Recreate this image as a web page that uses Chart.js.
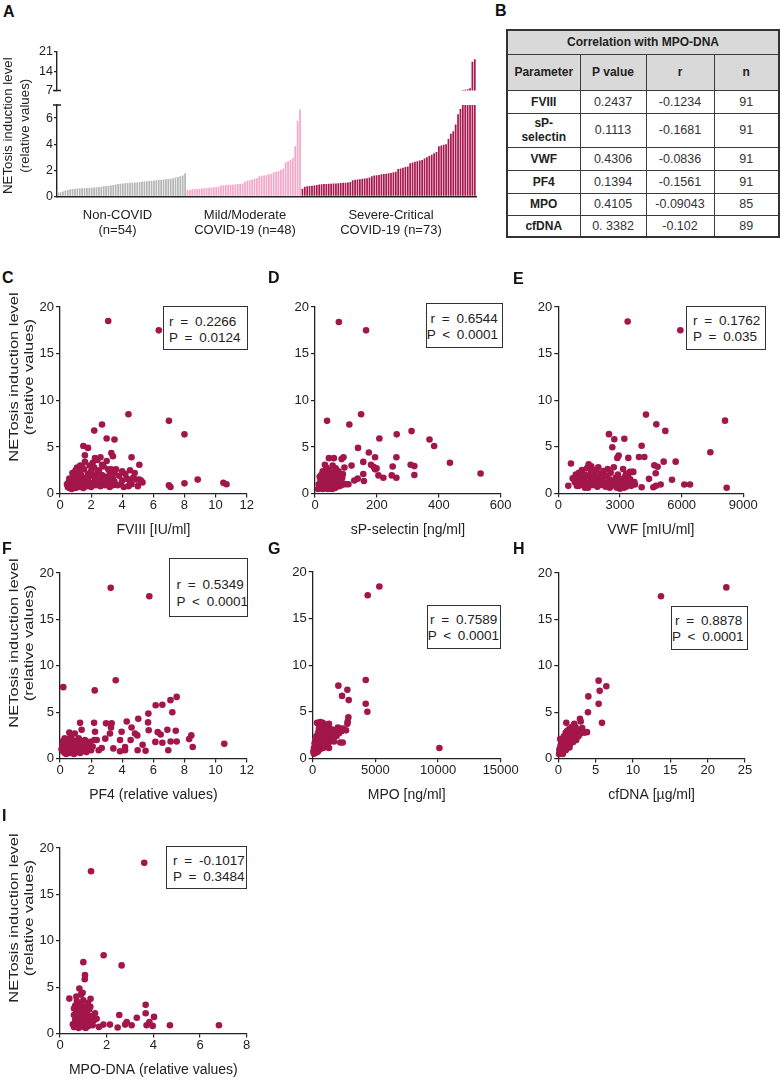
<!DOCTYPE html>
<html><head><meta charset="utf-8">
<script src="https://cdn.jsdelivr.net/npm/chart.js@4.4.0/dist/chart.umd.min.js"></script>
<style>
body{margin:0;background:#fff;width:781px;height:1079px;position:relative;overflow:hidden;font-family:"Liberation Sans",Arial,sans-serif;color:#222}
canvas{position:absolute}
.letter{position:absolute;font-weight:bold;font-size:16px;line-height:16px;color:#111}
.ytitle{position:absolute;white-space:nowrap;text-align:center;color:#222}
.glabel{position:absolute;width:170px;text-align:center;font-size:13px;line-height:15px;color:#222}
.box{position:absolute;border:1.3px solid #333;background:#fff;font-size:13.5px;line-height:16.8px;word-spacing:3px;box-sizing:border-box;white-space:nowrap;color:#222}
.tbl{position:absolute;border-collapse:collapse;table-layout:fixed;width:272px;font-size:12.5px;color:#333;border:2px solid #333}
.tbl td{border:1.5px solid #3c3c3c;text-align:center;padding:0;line-height:14px}
.tbl .hd td{background:#d9d9d9;color:#222;font-weight:bold;font-size:12px}
.tbl .p{font-weight:bold;color:#222;font-size:12px}
</style></head><body>
<script>
// ---------------- DATA ----------------
// Panel A: NETosis induction level per patient (sorted)
const nonCovid = [0.28,0.32,0.38,0.45,0.5,0.55,0.58,0.6,0.61,0.62,0.63,0.64,0.65,0.66,0.67,0.68,0.7,0.72,0.75,0.78,0.8,0.82,0.85,0.88,0.92,0.95,0.98,1.0,1.02,1.04,1.05,1.06,1.07,1.08,1.1,1.12,1.14,1.16,1.18,1.2,1.22,1.24,1.26,1.28,1.3,1.32,1.34,1.36,1.4,1.45,1.5,1.55,1.6,1.78];
const mildModerate = [0.5,0.52,0.55,0.57,0.58,0.6,0.62,0.63,0.65,0.66,0.68,0.7,0.72,0.75,0.85,0.86,0.88,0.9,0.9,0.92,0.93,0.95,0.97,1.0,1.15,1.2,1.25,1.3,1.35,1.4,1.55,1.58,1.6,1.65,1.7,1.75,1.85,1.9,1.95,2.05,2.15,2.6,2.7,2.8,2.95,3.85,5.8,6.65];
const severeCritical = [0.6,0.75,0.78,0.8,0.82,0.85,0.88,0.92,0.94,0.95,0.96,0.97,0.98,1.0,1.0,1.02,1.04,1.05,1.06,1.08,1.1,1.25,1.28,1.3,1.32,1.35,1.38,1.4,1.45,1.55,1.6,1.62,1.65,1.7,1.72,1.75,1.78,1.8,1.85,1.9,2.1,2.15,2.2,2.25,2.3,2.55,2.6,2.65,2.7,2.75,2.8,2.9,3.0,3.1,3.2,3.3,3.4,3.85,3.9,3.95,4.0,4.4,4.8,5.0,5.5,6.3,6.7,7.2,7.3,7.5,7.8,17.5,18.4];
const groupNames = [['Non-COVID','(n=54)'],['Mild/Moderate','COVID-19 (n=48)'],['Severe-Critical','COVID-19 (n=73)']];
const lowerTicksA = [0,2,4,6];
const upperTicksA = [7,14,21];

// Panels C-I: [x, NETosis level]
const fviiiPts = [[3.1,18.5],[6.35,17.5],[4.4,8.5],[2.7,7.4],[7.0,7.8],[8.0,6.35],[2.2,6.75],[3.0,5.9],[3.5,5.8],[1.5,5.1],[1.8,4.9],[1.6,4.1],[3.3,4.35],[4.6,3.9],[5.1,3.1],[2.25,3.8],[2.6,3.9],[3.4,4.0],[7.0,0.9],[7.1,0.7],[8.0,1.1],[8.85,1.5],[10.5,1.15],[10.7,1.0],
[0.45,1.0],[0.5,0.7],[0.55,1.2],[0.6,0.6],[0.65,0.9],[0.7,1.5],[0.75,0.5],[0.8,2.2],[0.85,1.1],[0.9,0.8],[0.95,1.8],[1.0,2.5],[1.0,0.6],[1.05,1.3],[1.1,2.8],[1.1,1.0],[1.15,1.9],[1.2,0.7],[1.2,2.3],[1.25,1.5],[1.3,3.0],[1.3,0.9],[1.35,2.0],[1.4,1.2],[1.4,2.9],[1.5,0.6],[1.5,1.7],[1.55,2.6],[1.6,1.0],[1.6,3.4],[1.7,1.4],[1.7,0.8],[1.8,2.1],[1.8,1.6],[1.9,3.0],[1.9,1.1],[2.0,2.4],[2.0,0.7],[2.1,1.9],[2.1,3.3],[2.2,1.3],[2.2,2.8],[2.3,0.9],[2.3,1.7],[2.4,2.2],[2.4,3.6],[2.5,1.0],[2.5,2.5],[2.6,0.8],[2.6,1.5],[2.7,3.1],[2.7,2.0],[2.8,1.2],[2.8,2.9],[2.9,0.9],[2.9,1.8],[3.0,3.5],[3.0,1.1],[3.1,2.6],[3.1,1.6],[3.2,0.7],[3.2,2.2],[3.3,1.3],[3.3,2.6],[3.4,1.6],[3.4,0.9],[3.5,2.2],[3.5,1.3],[3.6,2.6],[3.7,0.9],[3.8,1.9],[3.9,1.0],[4.0,2.4],[4.0,1.4],[4.1,0.7],[4.2,2.1],[4.3,1.6],[4.4,0.8],[4.5,1.2],[4.5,2.5],[4.6,1.0],[4.7,1.7],[4.8,2.2],[4.9,1.5],[5.0,0.8],[5.1,1.5],[5.2,1.4],[5.3,1.2],[0.6,1.6],[0.8,1.2],[1.0,1.6]];
const sPselPts = [[77,18.4],[165,17.5],[149,8.5],[39,7.8],[111,7.4],[312,6.7],[264,6.35],[208,5.9],[370,5.8],[385,5.1],[139,4.9],[174,4.4],[436,3.3],[535,2.15],[263,3.9],[194,3.9],[156,3.4],[309,3.1],[321,2.95],[321,2.0],[251,2.9],[263,1.7],[248,1.95],[221,1.7],[205,1.95],[190,2.85],[181,3.1],[194,2.6],[199,2.7],[156,2.1],[158,1.35],[138,1.6],[127,1.4],[108,1.0],[94,1.05],[118,3.0],[92,3.9],[86,3.7],[61,3.8],[45,3.8],[32,3.1],
[10,0.5],[12,1.0],[15,0.7],[18,1.5],[20,2.0],[22,0.9],[24,1.2],[25,2.4],[27,0.6],[28,1.8],[30,1.1],[32,2.2],[33,0.8],[35,1.5],[36,2.8],[38,1.0],[40,1.9],[41,0.5],[43,1.3],[45,2.5],[46,0.9],[48,1.7],[50,1.1],[52,2.1],[54,0.7],[55,1.4],[57,3.0],[58,1.0],[60,1.8],[62,0.6],[63,2.3],[65,1.2],[67,2.7],[68,0.9],[70,1.6],[72,2.0],[74,1.1],[76,2.4],[78,0.8],[80,1.5],[82,1.9],[85,1.2],[88,1.7],[90,2.1],[92,1.0],[95,2.8],[100,1.0],[15,1.8],[20,1.1],[25,0.5],[30,1.6],[35,0.6],[40,1.2],[45,0.7],[50,2.0],[55,0.5],[60,1.3],[65,0.6],[70,0.9],[25,1.6],[18,1.2],[40,2.6],[52,1.6],[75,1.4],[85,0.9]];
const vwfPts = [[3374,18.45],[5937,17.5],[4266,8.45],[4769,7.4],[8110,7.8],[5207,6.7],[2465,6.35],[2725,5.8],[3212,5.85],[2628,4.95],[4055,5.1],[7396,4.4],[5710,3.4],[5126,3.4],[4185,3.9],[3406,3.8],[3925,3.9],[2871,3.8],[2936,4.05],[4672,3.0],[4834,2.85],[4737,2.15],[4412,1.55],[5531,1.45],[6131,0.95],[6407,0.95],[4980,0.95],[4753,0.8],[4623,0.65],[8191,0.6],[4055,0.65],[3731,0.95],[3650,2.3],[3487,2.3],[616,3.2],[1476,3.1],[1606,2.9],[1946,2.8],[487,0.8],
[700,1.6],[800,1.2],[850,2.0],[900,0.8],[950,1.4],[1000,2.2],[1050,1.0],[1100,1.7],[1150,2.5],[1200,0.9],[1250,1.5],[1300,2.0],[1350,1.1],[1400,2.7],[1450,0.6],[1500,1.8],[1550,1.3],[1600,2.3],[1650,0.9],[1700,1.6],[1750,2.0],[1800,1.1],[1850,2.5],[1900,0.7],[1950,1.7],[2000,1.3],[2050,2.1],[2100,0.9],[2150,1.6],[2200,2.4],[2250,1.2],[2300,0.7],[2350,1.9],[2400,2.6],[2450,1.0],[2500,1.5],[2550,2.2],[2600,0.8],[2650,1.3],[2700,2.8],[2750,1.0],[2800,1.7],[2850,0.6],[2900,2.0],[2950,1.2],[3000,0.5],[3050,1.5],[3100,0.8],[3150,2.6],[3200,1.1],[3250,1.8],[3300,0.7],[3350,1.3],[3400,2.0],[3450,1.0],[3500,1.5],[3550,0.8],[3600,2.3],[3700,1.2],[1000,0.8],[1300,0.6],[1700,0.9],[2100,1.9],[2500,0.6],[2900,1.5],[3200,0.6],[3300,2.1]];
const pf4Pts = [[3.26,18.4],[5.74,17.5],[3.58,8.45],[0.21,7.7],[2.23,7.35],[7.5,6.65],[7.1,6.3],[6.58,5.8],[6.15,5.75],[7.22,5.0],[5.68,4.85],[5.03,4.3],[4.29,4.0],[5.66,3.9],[3.32,3.8],[1.29,3.85],[2.19,3.85],[2.96,3.8],[4.6,3.35],[3.28,3.35],[1.39,3.1],[6.9,3.1],[7.44,3.0],[5.7,3.05],[6.28,2.85],[6.47,2.6],[8.44,2.5],[8.3,2.1],[8.53,1.25],[10.56,1.6],[7.5,1.85],[7.11,1.85],[6.58,1.7],[6.13,1.8],[6.96,0.9],[5.5,0.85],[5.31,1.5],[4.99,0.9],[4.82,2.7],[4.97,2.5],[4.54,2.0],[4.18,1.25],[4.18,0.9],[3.86,0.8],[3.86,2.0],[3.96,2.9],[3.43,1.1],[3.21,2.7],[2.91,2.15],[2.68,1.15],[2.49,0.9],[2.36,2.0],[2.25,2.9],[1.89,1.45],
[0.1,1.0],[0.15,1.3],[0.2,0.8],[0.25,1.6],[0.3,2.2],[0.3,0.6],[0.35,1.1],[0.4,1.8],[0.45,0.7],[0.5,1.4],[0.5,2.1],[0.55,0.9],[0.6,1.2],[0.6,2.8],[0.65,0.6],[0.7,1.6],[0.75,1.0],[0.8,2.0],[0.85,0.8],[0.9,1.3],[0.95,2.7],[1.0,1.0],[1.05,1.7],[1.1,0.7],[1.15,1.2],[1.2,2.2],[1.25,0.9],[1.3,1.5],[1.35,1.9],[1.4,0.8],[1.5,1.3],[1.55,1.1],[1.6,2.0],[1.7,0.7],[1.75,1.5],[1.8,1.0],[1.9,1.8],[2.0,0.9],[2.1,1.3],[2.2,2.0],[0.2,1.9],[0.4,0.5],[0.7,2.4],[1.0,1.9],[1.3,0.6],[0.9,0.5]];
const mpoPts = [[5320,18.45],[4389,17.5],[4229,8.4],[2048,7.8],[2766,7.35],[2341,6.7],[2873,6.25],[4229,5.85],[4362,5.0],[10108,1.1],[2846,4.4],[2793,3.95],[2766,3.7],[2394,1.7],[2660,3.0],[2075,3.25],
[100,0.5],[150,0.8],[200,1.2],[250,0.6],[300,1.6],[300,2.4],[350,1.0],[350,3.8],[400,1.9],[400,0.7],[450,2.8],[450,1.3],[500,3.2],[500,0.9],[550,2.1],[550,1.5],[600,2.7],[600,1.0],[650,3.5],[650,1.8],[700,2.3],[700,1.2],[750,3.0],[750,1.6],[800,3.8],[800,2.0],[850,1.1],[850,2.6],[900,3.3],[900,1.7],[950,2.2],[1000,3.0],[1000,1.3],[1050,2.5],[1100,3.6],[1100,1.9],[1150,2.8],[1200,1.5],[1200,3.3],[1300,2.2],[1300,3.7],[1400,2.6],[1400,1.8],[1500,3.1],[1500,2.0],[1600,2.6],[1700,1.8],[1800,3.0],[1900,2.4],[2000,3.3],[2100,2.7],[2200,1.7],[2300,2.9],[2400,3.2],[200,2.0],[250,1.4],[150,1.6],[100,1.1],[50,0.7],[600,3.9],[1000,2.3],[1300,1.1]];
const cfdnaPts = [[22.5,18.45],[13.75,17.5],[5.4,8.4],[6.43,7.8],[5.54,7.3],[4.02,6.7],[5.4,5.9],[3.97,5.0],[5.85,3.85],[3.84,2.85],[2.9,4.3],[3.0,4.0],[1.07,3.85],[2.14,3.75],
[0.1,0.5],[0.2,0.8],[0.25,2.1],[0.3,0.6],[0.35,1.2],[0.4,0.9],[0.45,1.6],[0.5,1.0],[0.55,0.7],[0.6,1.4],[0.65,1.9],[0.7,1.1],[0.75,2.4],[0.8,1.5],[0.85,0.9],[0.9,2.0],[0.95,1.3],[1.0,2.8],[1.05,1.7],[1.1,1.1],[1.15,2.3],[1.2,3.0],[1.25,1.5],[1.3,2.0],[1.35,2.7],[1.4,1.8],[1.5,3.2],[1.55,2.2],[1.6,1.6],[1.7,2.8],[1.75,2.0],[1.8,3.4],[1.9,2.5],[2.0,1.8],[2.05,3.0],[2.1,2.2],[2.2,2.7],[2.3,3.4],[2.4,2.0],[2.5,3.0],[2.6,2.5],[2.8,3.1],[3.0,2.7],[3.2,3.3],[3.5,2.8],[0.15,1.0],[0.3,1.4],[0.5,1.9],[0.6,0.5],[1.0,0.9],[1.5,1.2],[2.0,2.6],[2.7,2.4]];
const mpoDnaPts = [[3.61,18.4],[1.33,17.5],[1.87,8.45],[2.64,7.35],[1.0,7.7],[1.07,6.3],[1.06,5.85],[0.83,4.85],[0.4,3.77],[0.97,4.4],[1.31,3.75],[3.67,3.1],[3.67,2.2],[4.03,1.8],[3.83,1.25],[3.29,1.7],[2.54,2.0],[1.57,1.6],[4.71,0.9],[6.81,0.9],[2.14,0.97],[2.47,0.65],[2.79,0.97],[2.86,1.25],[3.07,0.9],[3.71,0.9],[3.97,0.83],[1.67,0.72],[1.86,0.97],
[0.55,1.0],[0.6,2.0],[0.6,0.7],[0.65,3.0],[0.65,1.5],[0.7,2.5],[0.7,0.9],[0.72,3.5],[0.75,1.2],[0.75,2.2],[0.8,0.6],[0.8,1.8],[0.8,3.2],[0.85,2.7],[0.85,1.0],[0.9,4.2],[0.9,1.5],[0.9,2.0],[0.95,0.8],[0.95,3.0],[1.0,1.3],[1.0,2.4],[1.0,3.6],[1.05,0.7],[1.05,1.8],[1.1,2.8],[1.1,1.1],[1.15,2.1],[1.2,1.5],[1.2,0.8],[1.25,2.6],[1.3,1.2],[1.35,1.9],[1.4,0.9],[1.45,1.4],[1.5,2.2],[0.7,4.0],[1.2,3.3],[1.3,2.9],[0.6,2.7],[1.1,0.6]];

// Panel B table
const tableParams = ['FVIII','sP-selectin','VWF','PF4','MPO','cfDNA'];
const tablePvals = ['0.2437','0.1113','0.4306','0.1394','0.4105','0. 3382'];
const tableR = ['-0.1234','-0.1681','-0.0836','-0.1561','-0.09043','-0.102'];
const tableN = ['91','91','91','91','85','89'];

// ---------------- STYLE ----------------
const FONT = '"Liberation Sans", Arial, sans-serif';
Chart.defaults.font.family = FONT;
Chart.defaults.animation = false;
const AX = '#222';
const DOT = '#a3164a';
const BAR_COLORS = ['#b5b5b5','#f4a6c8','#a8164c'];

function addEl(tag, cls, css, html){
  const e = document.createElement(tag);
  if (cls) e.className = cls;
  Object.assign(e.style, css);
  if (html !== undefined) e.innerHTML = html;
  document.body.appendChild(e);
  return e;
}
function place(area, yw, xh){
  const padT = 12, padR = 24, padB = 2;
  const left = area.l - yw, top = area.t - padT;
  const w = Math.round(area.r - left + padR), h = Math.round(area.b - top + xh + padB);
  const c = document.createElement('canvas');
  c.width = w; c.height = h;
  Object.assign(c.style, {left:left+'px', top:top+'px', width:w+'px', height:h+'px'});
  document.body.appendChild(c);
  return {canvas:c, padding:{top:padT, left:0, right:w-(area.r-left), bottom:h-(area.b-top)-xh}};
}
const capPlugin = {id:'cap', afterDraw(chart, args, opts){
  if (!opts || !opts.edge) return;
  const {ctx, chartArea:a} = chart;
  const y = opts.edge === 'top' ? a.top : a.bottom;
  ctx.save(); ctx.strokeStyle = AX; ctx.lineWidth = 1.5;
  ctx.beginPath(); ctx.moveTo(a.left-4, y); ctx.lineTo(a.left+4, y); ctx.stroke(); ctx.restore();
}};

// ---------------- PANEL A ----------------
const allA = [...nonCovid, ...mildModerate, ...severeCritical];
const colorsA = [...nonCovid.map(()=>BAR_COLORS[0]), ...mildModerate.map(()=>BAR_COLORS[1]), ...severeCritical.map(()=>BAR_COLORS[2])];
const labelsA = allA.map((v,i)=>String(i+1));
const LOWER_MAX = 7;

function barChartA(area, xh, yMin, yMax, ticks, values, showX, cap){
  const p = place(area, area.l, xh);
  return new Chart(p.canvas, {
    type:'bar',
    data:{labels:labelsA, datasets:[{data:values, backgroundColor:colorsA, borderWidth:0, barPercentage:0.72, categoryPercentage:1, clip:0}]},
    options:{responsive:false, devicePixelRatio:1, layout:{padding:p.padding},
      plugins:{legend:{display:false}, tooltip:{enabled:false}, cap:{edge:cap}},
      scales:{
        x:{display:showX, ticks:{display:false}, grid:{display:false}, border:{display:true,color:AX,width:1.4}, afterFit:s=>{s.height=xh;}},
        y:{min:yMin, max:yMax, afterBuildTicks:s=>{s.ticks = ticks.map(v=>({value:v}));},
           ticks:{font:{size:12.5}, color:AX, padding:1},
           grid:{drawOnChartArea:false, drawTicks:true, tickLength:3, color:AX, lineWidth:1.3},
           border:{display:true,color:AX,width:1.4}, afterFit:s=>{s.width=area.l;}}
      }},
    plugins:[capPlugin]
  });
}
barChartA({l:57,t:105.3,r:476,b:201}, 2, 0, LOWER_MAX, lowerTicksA, allA, true, 'top');
barChartA({l:57,t:52,r:476,b:97}, 0, LOWER_MAX, 21, upperTicksA, allA.map(v=>v>LOWER_MAX?v:null), false, 'bottom');

// ---------------- SCATTERS ----------------
function scatter(area, pts, xMax, xStep, xTitle){
  const yw = area.l, xh = 46;
  const p = place(area, yw, xh);
  return new Chart(p.canvas, {
    type:'scatter',
    data:{datasets:[{data:pts.map(d=>({x:d[0], y:d[1]})), backgroundColor:DOT, borderWidth:0, pointRadius:3.3, clip:8}]},
    options:{responsive:false, devicePixelRatio:1, layout:{padding:p.padding},
      plugins:{legend:{display:false}, tooltip:{enabled:false}},
      scales:{
        x:{type:'linear', min:0, max:xMax,
           ticks:{stepSize:xStep, font:{size:13}, color:AX, padding:0, maxRotation:0, autoSkip:false, callback:v=>String(v)},
           grid:{drawOnChartArea:false, drawTicks:true, tickLength:4, color:AX, lineWidth:1.2},
           border:{display:true,color:AX,width:1.3},
           title:{display:true, text:xTitle, font:{size:14}, color:AX, padding:{top:0,bottom:1}},
           afterFit:s=>{s.height=xh;}},
        y:{min:0, max:20,
           ticks:{stepSize:5, font:{size:13}, color:AX, padding:2, callback:v=>String(v)},
           grid:{drawOnChartArea:false, drawTicks:true, tickLength:4, color:AX, lineWidth:1.2},
           border:{display:true,color:AX,width:1.3},
           afterFit:s=>{s.width=yw;}}
      }}
  });
}
scatter({l:60,t:306.7,r:246.7,b:493.3}, fviiiPts, 12, 2, 'FVIII [IU/ml]');
scatter({l:315,t:306.7,r:500.7,b:493.3}, sPselPts, 600, 200, 'sP-selectin [ng/ml]');
scatter({l:558.3,t:307,r:743.3,b:493.3}, vwfPts, 9000, 3000, 'VWF [mIU/ml]');
scatter({l:60,t:572.7,r:246.7,b:758.3}, pf4Pts, 12, 2, 'PF4 (relative values)');
scatter({l:312.7,t:572,r:500.7,b:758.3}, mpoPts, 15000, 5000, 'MPO [ng/ml]');
scatter({l:558.3,t:572.7,r:745,b:758.3}, cfdnaPts, 25, 5, 'cfDNA [µg/ml]');
scatter({l:60,t:847.7,r:246.7,b:1033.3}, mpoDnaPts, 8, 2, 'MPO-DNA (relative values)');

// ---------------- TEXT ----------------
[['A',3,4],['B',495,3],['C',2,270],['D',268,270],['E',513,271],['F',2,541],['G',268,541],['H',513,541],['I',2,808]].forEach(([t,x,y])=>{
  addEl('div','letter',{left:x+'px',top:y+'px'},t);
});
// y titles
addEl('div','ytitle',{left:(16.7-100)+'px',top:(126-16.7)+'px',width:'200px',height:'33.4px',fontSize:'13.3px',lineHeight:'16.7px',transform:'rotate(-90deg)'},'NETosis induction level<br>(relative values)');
[377, 642.5, 917.5].forEach(cy=>{
  addEl('div','ytitle',{left:(20.5-120)+'px',top:(cy-15)+'px',width:'240px',height:'30px',fontSize:'13.5px',lineHeight:'15px',transform:'rotate(-90deg) scaleX(1.22)'},'NETosis induction level<br>(relative values)');
});
// group labels
[[117.5,groupNames[0]],[245,groupNames[1]],[391,groupNames[2]]].forEach(([cx,g])=>{
  addEl('div','glabel',{left:(cx-85)+'px',top:'207px'},g[0]+'<br>'+g[1]);
});
// stat boxes [left, top, width, height, align, padX, padTop, line1, line2]
const boxes = [
  [163,306,85,44,'left',5,6.6,'r = 0.2266','P = 0.0124'],
  [425.7,302.7,77,45,'right',4,6.9,'r = 0.6544','P &lt; 0.0001'],
  [686,305.5,80,44.5,'left',6,6,'r = 0.1762','P = 0.035'],
  [169,557.7,79,59,'left',6.5,18.5,'r = 0.5349','P &lt; 0.0001'],
  [426.7,605,74,44,'right',2.5,5.6,'r = 0.7589','P &lt; 0.0001'],
  [671,605.7,76.7,44.3,'right',4.5,5.9,'r = 0.8878','P &lt; 0.0001'],
  [166,846,80.7,43,'left',6,5.6,'r = -0.1017','P = 0.3484']
];
boxes.forEach(b=>{
  const css = {left:b[0]+'px',top:b[1]+'px',width:b[2]+'px',height:b[3]+'px',textAlign:b[4],paddingTop:b[6]+'px'};
  if (b[4]==='left') css.paddingLeft = b[5]+'px'; else css.paddingRight = b[5]+'px';
  addEl('div','box',css,b[7]+'<br>'+b[8]);
});
// table
const rowH = [24,23,34,23,23,22,22];
let html = '<colgroup><col style="width:73px"><col style="width:66px"><col style="width:68px"><col style="width:65px"></colgroup>';
html += '<tr class="hd" style="height:24px"><td colspan="4">Correlation with MPO-DNA</td></tr>';
html += '<tr class="hd" style="height:36px"><td>Parameter</td><td>P value</td><td>r</td><td>n</td></tr>';
tableParams.forEach((p,i)=>{
  const name = p === 'sP-selectin' ? 'sP-<br>selectin' : p;
  html += `<tr style="height:${rowH[i+1]}px"><td class="p">${name}</td><td>${tablePvals[i]}</td><td>${tableR[i]}</td><td>${tableN[i]}</td></tr>`;
});
addEl('table','tbl',{left:'506px',top:'29px'},html);
</script>
</body></html>
